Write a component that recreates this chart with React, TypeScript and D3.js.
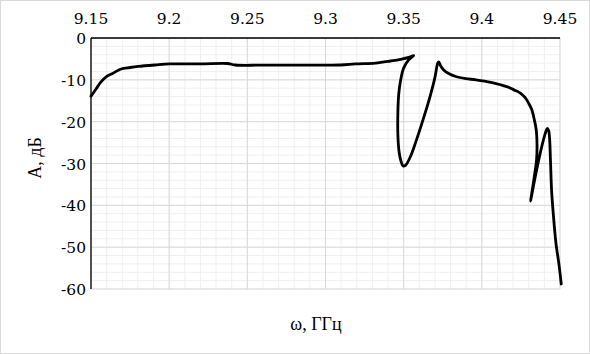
import React from "react"
import * as d3 from "d3"

// частота, ГГц
const freq = [
  9.150, 9.1532, 9.1564, 9.1603, 9.1641, 9.1692, 9.175, 9.1801, 9.191, 9.2006,
  9.2199, 9.2372, 9.2423, 9.2583, 9.284, 9.3096, 9.3192, 9.332, 9.3417, 9.3481,
  9.3532, 9.3564,
  9.3532, 9.35, 9.3481, 9.3468, 9.3463, 9.3463, 9.3471, 9.3484, 9.3497, 9.3513,
  9.3545, 9.3577, 9.3609, 9.3641, 9.3673, 9.3699, 9.3718, 9.3724, 9.3737, 9.3756,
  9.3788, 9.3833, 9.3897, 9.3962, 9.4058, 9.4122, 9.4167, 9.4205, 9.4244, 9.4276,
  9.4298, 9.4318, 9.4335, 9.4348, 9.4353, 9.435, 9.4334, 9.4312,
  9.433, 9.4353, 9.4378, 9.4401, 9.4413, 9.442, 9.4428, 9.4434, 9.4439, 9.4446,
  9.4455, 9.4474, 9.4494, 9.4508,
]

// амплитуда, дБ
const amp = [
  -13.9, -12.2, -10.5, -9.1, -8.4, -7.4, -7.05, -6.8, -6.45, -6.2,
  -6.2, -6.1, -6.45, -6.5, -6.5, -6.45, -6.2, -6.0, -5.5, -5.1,
  -4.65, -4.2,
  -5.25, -7.2, -10.0, -13.6, -17.7, -23.2, -27.3, -29.6, -30.6, -30.4,
  -28.2, -24.9, -21.3, -17.5, -13.4, -9.6, -6.0, -5.7, -6.7, -7.65,
  -8.5, -9.2, -9.7, -10.0, -10.6, -11.2, -11.7, -12.4, -13.1, -14.2,
  -15.5, -17.0, -19.4, -22.0, -25.6, -29.2, -33.5, -39.0,
  -35.4, -31.1, -26.8, -23.4, -22.0, -21.6, -22.2, -24.4, -29.2, -36.3,
  -41.1, -49.0, -54.3, -58.8,
]

const xTicks = [9.15, 9.2, 9.25, 9.3, 9.35, 9.4, 9.45]
const yTicks = [0, -10, -20, -30, -40, -50, -60]

const W = 590, H = 354
const txt = {fontFamily: "Liberation Serif, serif", fontSize: "18px", fill: "#000"}
const num = {fontFamily: "DejaVu Serif, serif", fontSize: "15.5px", fill: "#000"}

export default function App() {
  const x = d3.scaleLinear().domain([9.15, 9.45]).range([91, 560])
  const y = d3.scaleLinear().domain([-60, 0]).range([289, 38])

  const minorX = d3.range(0, 31).map(i => 9.15 + i * 0.01)
  const minorY = d3.range(0, 31).map(i => -i * 2)

  const line = d3.line<number>()
    .x(i => x(freq[i]))
    .y(i => y(amp[i]))
    .curve(d3.curveCatmullRom.alpha(0.5))

  return (
    <svg width={W} height={H} style={{position: "absolute", left: 0, top: 0}}>
      <rect x={0.5} y={0.5} width={W - 1} height={H - 1} fill="#fff" stroke="#d9d9d9" />

      {minorX.map((v, i) => (
        <line key={"mx" + i} x1={x(v)} x2={x(v)} y1={y(0)} y2={y(-60)} stroke="#efefef" />
      ))}
      {minorY.map((v, i) => (
        <line key={"my" + i} x1={x(9.15)} x2={x(9.45)} y1={y(v)} y2={y(v)} stroke="#efefef" />
      ))}
      {xTicks.map(v => (
        <line key={"gx" + v} x1={x(v)} x2={x(v)} y1={y(0)} y2={y(-60)} stroke="#d9d9d9" />
      ))}
      {yTicks.map(v => (
        <line key={"gy" + v} x1={x(9.15)} x2={x(9.45)} y1={y(v)} y2={y(v)} stroke="#d9d9d9" />
      ))}

      <line x1={x(9.15)} x2={x(9.15)} y1={y(0)} y2={y(-60)} stroke="#000" strokeWidth={1.3} />
      <line x1={x(9.15)} x2={x(9.45)} y1={y(0)} y2={y(0)} stroke="#000" strokeWidth={1.3} />

      <path d={line(d3.range(freq.length)) || ""} fill="none" stroke="#000" strokeWidth={2.8}
        strokeLinejoin="round" strokeLinecap="round" />

      {xTicks.map(v => (
        <text key={"tx" + v} x={x(v)} y={24} textAnchor="middle" style={num}>{v}</text>
      ))}
      {yTicks.map(v => (
        <text key={"ty" + v} x={86} y={y(v) + 6} textAnchor="end" style={num}>{v}</text>
      ))}

      <text x={316} y={330} textAnchor="middle" style={txt}>ω, ГГц</text>
      <text transform="translate(41,158) rotate(-90)" textAnchor="middle" style={txt}>А, дБ</text>
    </svg>
  )
}
